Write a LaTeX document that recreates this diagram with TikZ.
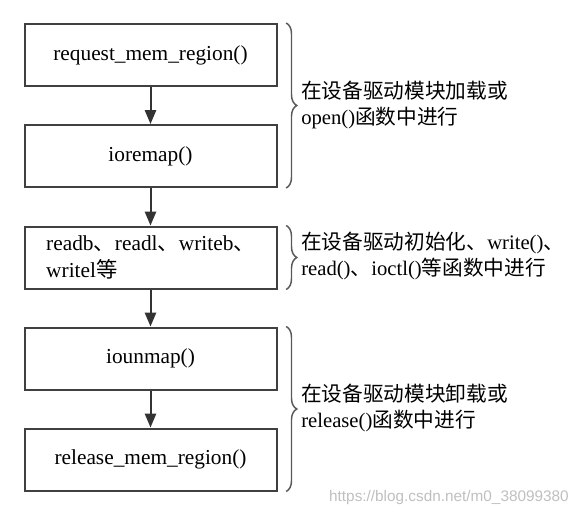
\documentclass[tikz,border=0pt]{standalone}
\usepackage{fontspec}
\setmainfont{Liberation Serif}
\setsansfont{Liberation Sans}
\newfontfamily\cjk{Noto Sans CJK SC}
\usetikzlibrary{arrows.meta,decorations.pathreplacing}

\tikzset{
  stepbox/.style={draw=black!75, line width=1.5pt, minimum width=189pt, minimum height=46.5pt,
    inner sep=0pt, font=\fontsize{16}{20.5}\selectfont},
  flow/.style={draw=black!80, line width=1.5pt, -{Triangle[length=10.5pt,width=8.5pt]}},
  grp/.style={draw=black!65, line width=1.1pt, decorate, decoration={brace,amplitude=8pt}},
  note/.style={anchor=west, align=left, inner sep=0pt, font=\fontsize{15.5}{19.5}\selectfont}
}

\begin{document}
\begin{tikzpicture}[x=0.75pt,y=-0.75pt]
    \useasboundingbox (0,0) rectangle (571,517);
    \node[stepbox] (req) at (150.5,55) {request\_mem\_region()};
    \node[stepbox] (remap) at (150.5,156) {ioremap()};
    \node[stepbox, align=left] (rw) at (150.5,257.5) {readb{\cjk 、}readl{\cjk 、}writeb{\cjk 、}\\writel{\cjk 等}};
    \node[stepbox] (unmap) at (150.5,358.5) {iounmap()};
    \node[stepbox] (rel) at (150.5,459.5) {release\_mem\_region()};
    \draw[flow] (req) -- (remap);
    \draw[flow] (remap) -- (rw);
    \draw[flow] (rw) -- (unmap);
    \draw[flow] (unmap) -- (rel);
    % braces
    \draw[grp] ([xshift=6.5pt]req.north east) -- ([xshift=6.5pt]remap.south east);
    \draw[grp] ([xshift=6.5pt]rw.north east) -- ([xshift=6.5pt]rw.south east);
    \draw[grp] ([xshift=6.5pt]unmap.north east) -- ([xshift=6.5pt]rel.south east);
    \node[note] (load) at (301,105) {{\cjk 在设备驱动模块加载或}\\open(){\cjk 函数中进行}};
    \node[note] (use) at (301,256) {{\cjk 在设备驱动初始化、}write(){\cjk 、}\\read(){\cjk 、}ioctl(){\cjk 等函数中进行}};
    \node[note] (unload) at (301,408) {{\cjk 在设备驱动模块卸载或}\\release(){\cjk 函数中进行}};
    \node[anchor=east, inner sep=0pt, text=black!25, font=\sffamily\fontsize{11.5}{13}\selectfont] (mark) at (569,498) {https://blog.csdn.net/m0\_38099380};
\end{tikzpicture}
\end{document}
